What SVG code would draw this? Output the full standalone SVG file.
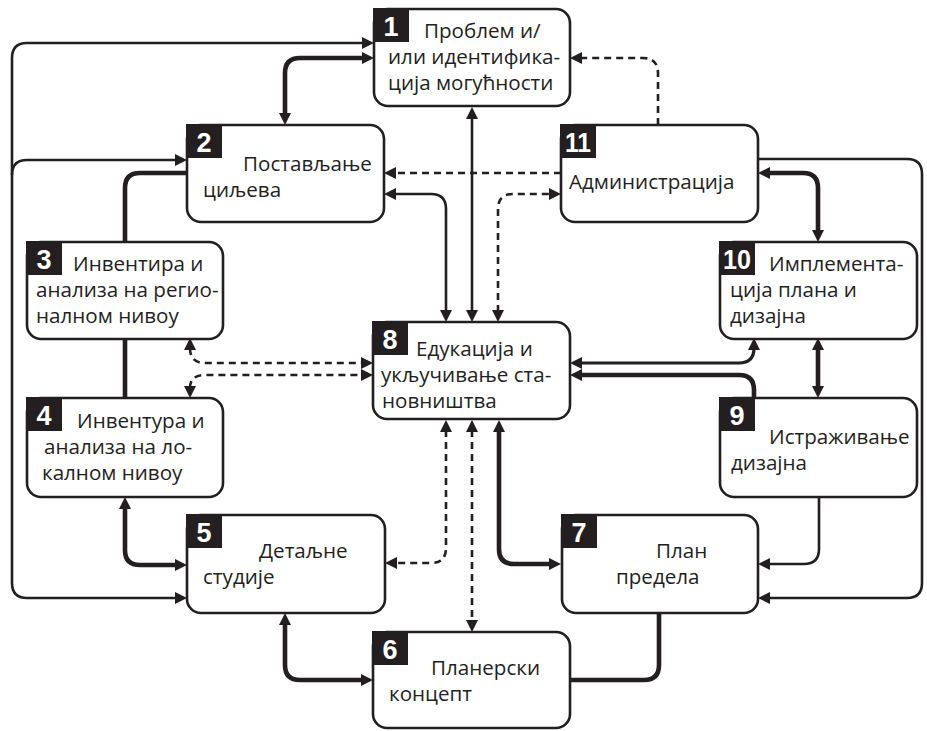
<svg xmlns="http://www.w3.org/2000/svg" width="927" height="731" viewBox="0 0 927 731">
<style>
.box{fill:#fff;stroke:#231f20;stroke-width:2.6}
.badge{fill:#231f20}
.num{font-family:"Liberation Sans Narrow","Liberation Sans",Arial,sans-serif;font-weight:bold;font-size:27px;fill:#fff;text-anchor:middle}
.lbl{font-family:"Open Sans","Noto Sans",sans-serif;font-size:20.6px;fill:#231f20}
.c{fill:none;stroke:#231f20}
.thin{stroke-width:2.6}
.mid{stroke-width:3.2}
.thick{stroke-width:4.6}
.dash{stroke-width:2.6;stroke-dasharray:7 5}
.a2{marker-start:url(#ah);marker-end:url(#ah)}
.ae{marker-end:url(#ah)}
</style>
<defs>
<marker id="ah" markerUnits="userSpaceOnUse" markerWidth="12" markerHeight="12" viewBox="0 0 12 12" refX="2" refY="6" orient="auto-start-reverse">
<path d="M0,0 L12,6 L0,12 z" fill="#231f20"/>
</marker>
</defs>
<g id="connectors">
<path class="c thin a2" d="M364,43 L27,43 Q12,43 12,58 L12,583 Q12,598 27,598 L177,598"/>
<path class="c thin ae" d="M12,175 Q12,160 27,160 L177,160"/>
<path class="c thin ae" d="M758,159 L907,159 Q922,159 922,174 L922,583 Q922,598 907,598 L768,598"/>
<path class="c thick a2" d="M285,115 L285,73 Q285,58 300,58 L364,58"/>
<path class="c dash ae" d="M658,125 L658,73 Q658,58 643,58 L580,58"/>
<path class="c dash ae" d="M561,173 L394,173"/>
<path class="c thin a2" d="M446,312 L446,209 Q446,194 431,194 L394,194"/>
<path class="c thin a2" d="M472,117 L472,312"/>
<path class="c dash a2" d="M498,312 L498,209 Q498,194 513,194 L551,194"/>
<path class="c thick" d="M187,173 L140,173 Q125,173 125,188 L125,242"/>
<path class="c thick" d="M125,339 L125,398"/>
<path class="c dash a2" d="M190,348 Q190,363 205,363 L363,363"/>
<path class="c dash a2" d="M190,388 Q190,375 205,375 L363,375"/>
<path class="c thick a2" d="M125,507 L125,550 Q125,565 140,565 L177,565"/>
<path class="c thick a2" d="M285,623 L285,665 Q285,680 300,680 L363,680"/>
<path class="c dash a2" d="M446,430 L446,548 Q446,563 431,563 L395,563"/>
<path class="c dash a2" d="M472,430 L472,622"/>
<path class="c thick a2" d="M499,430 L499,549 Q499,564 514,564 L551,564"/>
<path class="c thick" d="M659,613 L659,665 Q659,680 644,680 L570,680"/>
<path class="c thin ae" d="M819,497 L819,549 Q819,564 804,564 L768,564"/>
<path class="c mid a2" d="M754,348 Q754,363 739,363 L580,363"/>
<path class="c thick ae" d="M754,398 L754,390 Q754,375 739,375 L580,375"/>
<path class="c thick a2" d="M818,348 L818,388"/>
<path class="c thick a2" d="M768,173 L803,173 Q818,173 818,188 L818,232"/>
</g>
<g id="n1">
<rect class="box" x="374" y="9" width="196" height="97" rx="14"/>
<rect class="badge" x="373" y="8" width="36" height="34"/>
<text class="num" x="391" y="36">1</text>
<text class="lbl" x="424" y="38">Проблем и/</text>
<text class="lbl" x="388" y="64">или идентифика-</text>
<text class="lbl" x="388" y="90">ција могућности</text>
</g>
<g id="n2">
<rect class="box" x="187" y="125" width="197" height="97" rx="14"/>
<rect class="badge" x="186" y="124" width="36" height="34"/>
<text class="num" x="204" y="152">2</text>
<text class="lbl" x="243" y="171">Постављање</text>
<text class="lbl" x="203" y="197">циљева</text>
</g>
<g id="n11">
<rect class="box" x="561" y="125" width="197" height="97" rx="14"/>
<rect class="badge" x="560" y="124" width="36" height="34"/>
<text class="num" x="578" y="152" textLength="26" lengthAdjust="spacingAndGlyphs">11</text>
<text class="lbl" x="569" y="189">Администрација</text>
</g>
<g id="n3">
<rect class="box" x="27" y="242" width="196" height="97" rx="14"/>
<rect class="badge" x="26" y="241" width="36" height="34"/>
<text class="num" x="44" y="269">3</text>
<text class="lbl" x="73" y="271">Инвентира и</text>
<text class="lbl" x="36" y="297">анализа на регио-</text>
<text class="lbl" x="36" y="323">налном нивоу</text>
</g>
<g id="n10">
<rect class="box" x="720" y="242" width="197" height="97" rx="14"/>
<rect class="badge" x="719" y="241" width="36" height="34"/>
<text class="num" x="737" y="269" textLength="28" lengthAdjust="spacingAndGlyphs">10</text>
<text class="lbl" x="769" y="271">Имплемента-</text>
<text class="lbl" x="730" y="297">ција плана и</text>
<text class="lbl" x="730" y="323">дизајна</text>
</g>
<g id="n8">
<rect class="box" x="373" y="322" width="197" height="97" rx="14"/>
<rect class="badge" x="372" y="321" width="36" height="34"/>
<text class="num" x="390" y="349">8</text>
<text class="lbl" x="416" y="356">Едукација и</text>
<text class="lbl" x="381" y="382">укључивање ста-</text>
<text class="lbl" x="382" y="408">новништва</text>
</g>
<g id="n4">
<rect class="box" x="27" y="398" width="196" height="99" rx="14"/>
<rect class="badge" x="26" y="397" width="36" height="34"/>
<text class="num" x="44" y="425">4</text>
<text class="lbl" x="77" y="428">Инвентура и</text>
<text class="lbl" x="44" y="454">анализа на ло-</text>
<text class="lbl" x="42" y="480">калном нивоу</text>
</g>
<g id="n9">
<rect class="box" x="720" y="398" width="197" height="99" rx="14"/>
<rect class="badge" x="719" y="397" width="36" height="34"/>
<text class="num" x="737" y="425">9</text>
<text class="lbl" x="769" y="444">Истраживање</text>
<text class="lbl" x="731" y="470">дизајна</text>
</g>
<g id="n5">
<rect class="box" x="187" y="515" width="198" height="98" rx="14"/>
<rect class="badge" x="186" y="514" width="36" height="34"/>
<text class="num" x="204" y="542">5</text>
<text class="lbl" x="259" y="558">Детаљне</text>
<text class="lbl" x="203" y="584">студије</text>
</g>
<g id="n7">
<rect class="box" x="562" y="515" width="196" height="98" rx="14"/>
<rect class="badge" x="561" y="514" width="36" height="34"/>
<text class="num" x="579" y="542">7</text>
<text class="lbl" x="656" y="558">План</text>
<text class="lbl" x="616" y="584">предела</text>
</g>
<g id="n6">
<rect class="box" x="373" y="632" width="197" height="96" rx="14"/>
<rect class="badge" x="372" y="631" width="36" height="34"/>
<text class="num" x="390" y="659">6</text>
<text class="lbl" x="431" y="675">Планерски</text>
<text class="lbl" x="389" y="701">концепт</text>
</g>
</svg>
